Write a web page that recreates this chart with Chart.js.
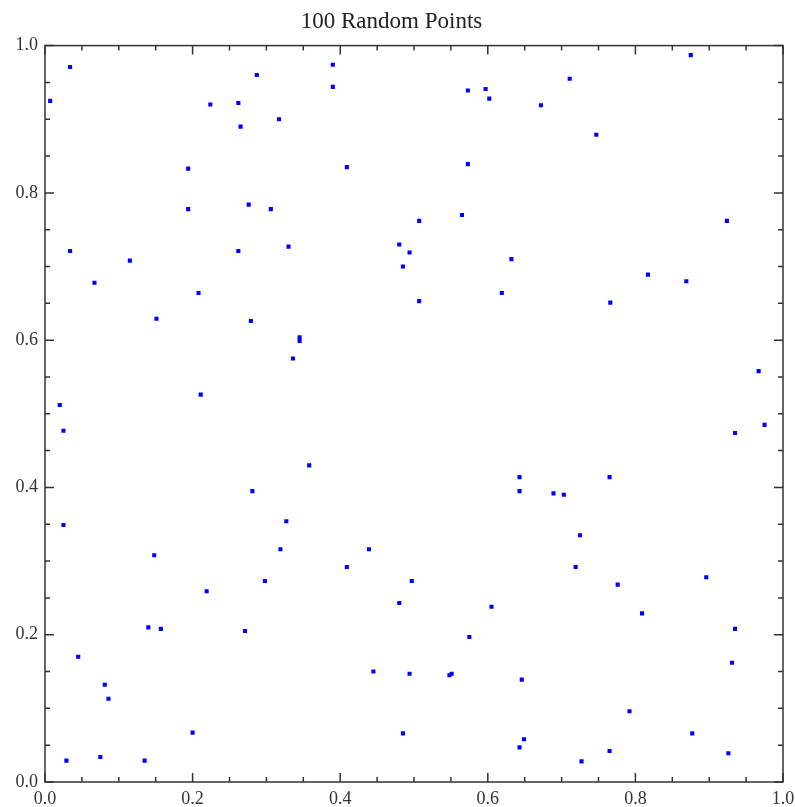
<!DOCTYPE html>
<html>
<head>
<meta charset="utf-8">
<script src="https://cdn.jsdelivr.net/npm/chart.js@4"></script>
<style>
  body { margin: 0; background: #fff; }
  canvas { display: block; }
</style>
</head>
<body>
<canvas id="chart" width="795" height="807"></canvas>
<script>
const xValues = [
  0.007, 0.034, 0.034, 0.067, 0.115, 0.151, 0.194, 0.194, 0.208, 0.211,
  0.224, 0.262, 0.265, 0.262, 0.276, 0.279, 0.287, 0.306, 0.317, 0.330,
  0.020, 0.390, 0.390, 0.409, 0.345, 0.345, 0.336, 0.480, 0.494, 0.485,
  0.507, 0.507, 0.565, 0.573, 0.573, 0.597, 0.602, 0.632, 0.619, 0.672,
  0.711, 0.747, 0.875, 0.766, 0.817, 0.869, 0.924, 0.967, 0.025, 0.025,
  0.045, 0.081, 0.086, 0.029, 0.075, 0.135, 0.148, 0.140, 0.157, 0.200,
  0.219, 0.271, 0.281, 0.298, 0.319, 0.327, 0.358, 0.439, 0.409, 0.497,
  0.480, 0.605, 0.575, 0.643, 0.643, 0.445, 0.494, 0.548, 0.551, 0.646,
  0.485, 0.643, 0.649, 0.935, 0.975, 0.765, 0.689, 0.703, 0.725, 0.719,
  0.776, 0.809, 0.896, 0.935, 0.931, 0.792, 0.877, 0.765, 0.727, 0.926
]
const yValues = [
  0.925, 0.971, 0.721, 0.678, 0.708, 0.629, 0.833, 0.778, 0.664, 0.526,
  0.920, 0.922, 0.890, 0.721, 0.784, 0.626, 0.960, 0.778, 0.900, 0.727,
  0.512, 0.974, 0.944, 0.835, 0.604, 0.599, 0.575, 0.730, 0.719, 0.700,
  0.762, 0.653, 0.770, 0.939, 0.839, 0.941, 0.928, 0.710, 0.664, 0.919,
  0.955, 0.879, 0.987, 0.651, 0.689, 0.680, 0.762, 0.558, 0.477, 0.349,
  0.170, 0.132, 0.113, 0.029, 0.034, 0.029, 0.308, 0.210, 0.208, 0.067,
  0.259, 0.205, 0.395, 0.273, 0.316, 0.354, 0.430, 0.316, 0.292, 0.273,
  0.243, 0.238, 0.197, 0.414, 0.395, 0.150, 0.147, 0.145, 0.147, 0.139,
  0.066, 0.047, 0.058, 0.474, 0.485, 0.414, 0.392, 0.390, 0.335, 0.292,
  0.268, 0.229, 0.278, 0.208, 0.162, 0.096, 0.066, 0.042, 0.028, 0.039
]
const tickStep = 0.2
const minorStep = 0.05

const points = xValues.map((x, i) => ({ x, y: yValues[i] }))

// Mathematica-style frame with inward ticks on all four sides
const frameTicks = {
  id: 'frameTicks',
  afterDatasetsDraw(chart) {
    const { ctx, chartArea: a } = chart
    const xs = chart.scales.x
    const ys = chart.scales.y
    ctx.save()
    ctx.strokeStyle = '#333'
    ctx.lineWidth = 1.5
    ctx.strokeRect(a.left, a.top, a.right - a.left, a.bottom - a.top)
    const n = Math.round((xs.max - xs.min) / minorStep)
    ctx.beginPath()
    for (let i = 0; i <= n; i++) {
      const v = xs.min + i * minorStep
      const len = i % Math.round(tickStep / minorStep) === 0 ? 9 : 5
      const px = xs.getPixelForValue(v)
      const py = ys.getPixelForValue(v)
      ctx.moveTo(px, a.bottom); ctx.lineTo(px, a.bottom - len)
      ctx.moveTo(px, a.top); ctx.lineTo(px, a.top + len)
      ctx.moveTo(a.left, py); ctx.lineTo(a.left + len, py)
      ctx.moveTo(a.right, py); ctx.lineTo(a.right - len, py)
    }
    ctx.stroke()
    ctx.restore()
  }
}

const labelFont = { family: 'Liberation Serif', size: 18 }

new Chart(document.getElementById('chart'), {
  type: 'scatter',
  data: {
    datasets: [{
      data: points,
      backgroundColor: '#0000ff',
      borderWidth: 0,
      pointStyle: 'rect',
      pointRadius: 2.9,
      pointHoverRadius: 2.9
    }]
  },
  options: {
    responsive: false,
    animation: false,
    events: [],
    layout: { padding: { left: 0, right: 12, top: 0, bottom: 0 } },
    plugins: {
      legend: { display: false },
      tooltip: { enabled: false },
      title: {
        display: true,
        text: '100 Random Points',
        color: '#222',
        font: { family: 'Liberation Serif', size: 23, weight: 'normal' },
        padding: { top: 8, bottom: 10 }
      }
    },
    scales: {
      x: {
        type: 'linear',
        min: 0,
        max: 1,
        grid: { display: false, drawTicks: false },
        border: { display: false },
        ticks: {
          stepSize: tickStep,
          padding: 6,
          color: '#333',
          font: labelFont,
          maxRotation: 0,
          callback: v => v.toFixed(1)
        },
        afterFit: scale => {
          scale.height = 25
          scale.paddingLeft = 0
          scale.paddingRight = 0
        }
      },
      y: {
        type: 'linear',
        min: 0,
        max: 1,
        grid: { display: false, drawTicks: false },
        border: { display: false },
        ticks: {
          stepSize: tickStep,
          padding: 7,
          color: '#333',
          font: labelFont,
          callback: v => v.toFixed(1)
        },
        afterFit: scale => {
          scale.width = 45
          scale.paddingTop = 0
          scale.paddingBottom = 0
        }
      }
    }
  },
  plugins: [frameTicks]
})
</script>
</body>
</html>
